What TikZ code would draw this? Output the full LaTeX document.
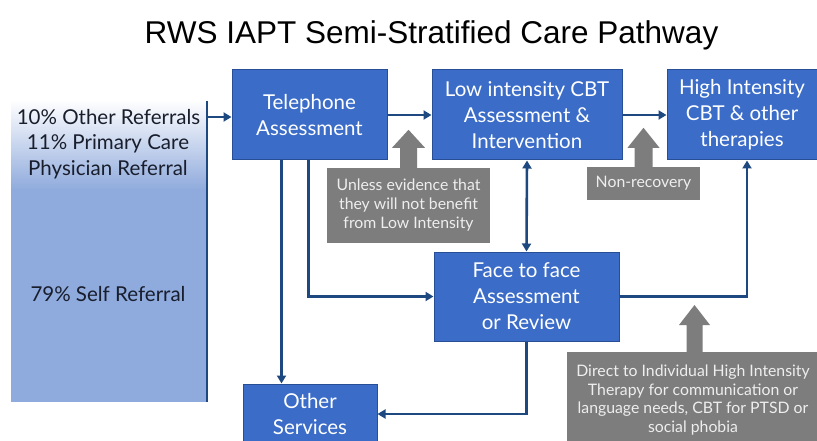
\documentclass[tikz,border=0pt]{standalone}
\usepackage{fontspec}
\setmainfont{Lato}
\newfontfamily\titlefont{Liberation Sans}
\usetikzlibrary{arrows.meta,calc}
\definecolor{boxblue}{RGB}{59,108,200}
\definecolor{boxedge}{RGB}{40,78,150}
\definecolor{connblue}{RGB}{30,72,128}
\definecolor{panelblue}{RGB}{143,170,220}
\definecolor{greybox}{RGB}{125,125,125}
\definecolor{greytext}{RGB}{238,238,238}
\definecolor{textdark}{RGB}{25,30,45}
\tikzset{
  bluebox/.style={draw=boxedge, line width=1pt, fill=boxblue, text=white, align=center,
    font=\fontsize{20.5}{26}\selectfont, inner sep=0pt},
  greynote/.style={fill=greybox, text=greytext, align=center, inner sep=0pt},
  conn/.style={draw=connblue, line width=2.6pt},
  arr/.style={conn, -{Triangle[length=8pt,width=9pt]}},
  darr/.style={conn, {Triangle[length=8pt,width=9pt]}-{Triangle[length=8pt,width=9pt]}},
  lefttext/.style={text=textdark, align=center, font=\fontsize{20.5}{26.5}\selectfont}
}
\begin{document}
\begin{tikzpicture}[x=1pt,y=-1pt]
\clip (0,0) rectangle (817,441);
\fill[white] (0,0) rectangle (817,441);
% title
\node[anchor=base, font=\titlefont\fontsize{31.5}{36}\selectfont, text=black] (title) at (431.5,44) {RWS IAPT Semi-Stratified Care Pathway};
% left panel
\shade[top color=white, bottom color=panelblue] (11,100) rectangle (207,190);
\fill[panelblue] (11,189.5) rectangle (207,402);
\coordinate (lineTop) at (207,101);
\coordinate (lineBot) at (207,402);
\draw[conn, line width=2pt] (lineTop) -- (lineBot);
\node[lefttext, anchor=center] (other10) at (108.5,117) {10\% Other Referrals};
\node[lefttext, anchor=center] (primary) at (108,157) {11\% Primary Care\\Physician Referral};
\node[lefttext, anchor=center] (self) at (108,294) {79\% Self Referral};
% blue boxes
\node[bluebox, minimum width=155pt, minimum height=90pt] (tel) at (309.5,115) {Telephone\\Assessment};
\node[bluebox, minimum width=190pt, minimum height=90pt] (low) at (527,115) {Low intensity CBT\\Assessment \&\\Intervention};
\node[bluebox, minimum width=150pt, minimum height=90pt] (high) at (742,115) {High Intensity\\CBT \& other\\therapies};
\node[bluebox, minimum width=185pt, minimum height=89pt] (face) at (526.5,296.5) {Face to face\\Assessment\\or Review};
\node[bluebox, minimum width=134pt, minimum height=60pt] (other) at (310,414) {Other\\Services};
% grey notes
\node[greynote, font=\fontsize{15.8}{19}\selectfont, minimum width=163pt, minimum height=75pt] (unless) at (408.5,205.5) {Unless evidence that\\they will not benefit\\from Low Intensity};
\node[greynote, font=\fontsize{15.8}{19}\selectfont, minimum width=113pt, minimum height=33pt] (nonrec) at (643.5,183.5) {Non-recovery};
\node[greynote, font=\fontsize{15.8}{18.5}\selectfont, minimum width=252pt, minimum height=96pt] (direct) at (693,400) {Direct to Individual High Intensity\\Therapy for communication or\\language needs, CBT for PTSD or\\social phobia};
% grey block arrows
\fill[greybox] ($(unless.north)+(-8.5,0.5)$) -- ++(0,-20.5) -- ++(-8,0) -- ($(unless.north)+(0,-38)$) -- ($(unless.north)+(16.5,-20)$) -- ++(-8,0) -- ($(unless.north)+(8.5,0.5)$) -- cycle;
\fill[greybox] ($(nonrec.north)+(-9,0.5)$) -- ++(0,-19.5) -- ++(-7,0) -- ($(nonrec.north)+(0,-39)$) -- ($(nonrec.north)+(16,-19)$) -- ++(-7,0) -- ($(nonrec.north)+(9,0.5)$) -- cycle;
\fill[greybox] (686.5,352.5) -- (686.5,325) -- (679,325) -- (694.5,305) -- (710,325) -- (702.5,325) -- (702.5,352.5) -- cycle;
% connectors
\coordinate (srcOut) at (207,117);
\draw[arr] (srcOut) -- (srcOut -| tel.west);
\draw[arr] (tel.east) -- (low.west);
\draw[arr] (low.east) -- (high.west);
\draw[darr] (low.south) -- (face.north);
\coordinate (telA) at ($(tel.south west)+(50,0)$);
\coordinate (telB) at ($(tel.south west)+(77,0)$);
\draw[arr] (telA) -- (telA |- other.north);
\draw[arr] (telB) |- (face.west);
\draw[arr] (face.south) |- (other.east);
\coordinate (highIn) at ($(high.south)+(5,0)$);
\draw[arr] (face.east) -| (highIn);
\end{tikzpicture}
\end{document}
